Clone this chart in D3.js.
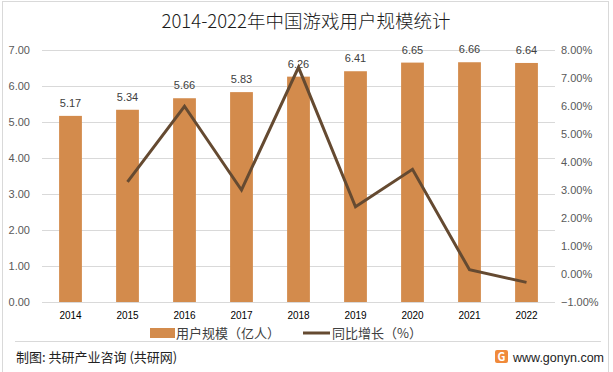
<!DOCTYPE html>
<html>
<head>
<meta charset="utf-8">
<script src="https://cdn.jsdelivr.net/npm/d3@7"></script>
<style>
  body { margin: 0; background: #fff; }
  svg { display: block; font-family: "Noto Sans CJK SC", "Noto Sans", sans-serif; }
</style>
</head>
<body>
<svg id="chart"></svg>
<script>
// data
let years = ['2014', '2015', '2016', '2017', '2018', '2019', '2020', '2021', '2022'];
let users = [5.17, 5.34, 5.66, 5.83, 6.26, 6.41, 6.65, 6.66, 6.64];
let growth = [null, 3.29, 5.99, 3.00, 7.38, 2.40, 3.74, 0.15, -0.30];
let leftTicks = [0, 1, 2, 3, 4, 5, 6, 7];
let rightTicks = [-1, 0, 1, 2, 3, 4, 5, 6, 7, 8];

let widthSVG = 613;
let heightSVG = 372;
let margins = { top: 50, bottom: 70, left: 42, right: 58 };

let width = widthSVG - margins.left - margins.right;
let height = heightSVG - margins.top - margins.bottom;

let barCol = '#D38B4C';
let lineCol = '#654A31';

let SVG = d3.select('svg#chart')
            .attr('width', widthSVG)
            .attr('height', heightSVG);

// outer frame
SVG.append('rect')
   .attr('x', 2.5).attr('y', 1.5)
   .attr('width', 606).attr('height', 372)
   .style('fill', 'none')
   .style('stroke', '#d9d9d9');

// title
SVG.append('text')
   .text('2014-2022年中国游戏用户规模统计')
   .attr('x', 306).attr('y', 28)
   .style('text-anchor', 'middle')
   .style('font-size', '18.5px')
   .style('font-weight', 300)
   .style('fill', '#1a1a1a');

let SVGG = SVG.append('g')
              .attr('transform', `translate(${margins.left}, ${margins.top})`);

// scales
let x = d3.scaleBand().domain(years).range([0, width]).paddingInner(0.6).paddingOuter(0.3);
let yL = d3.scaleLinear().domain([0, 7]).range([height, 0]);
let yR = d3.scaleLinear().domain([-1, 8]).range([height, 0]);

// gridlines
SVGG.selectAll('line.grid')
    .data(leftTicks)
    .enter()
    .append('line')
    .classed('grid', true)
    .attr('x1', 0).attr('x2', width)
    .attr('y1', d => Math.round(yL(d)) + 0.5)
    .attr('y2', d => Math.round(yL(d)) + 0.5)
    .style('stroke', '#d9d9d9')
    .style('stroke-width', '1px');

// left axis labels
let axisLeft = d3.axisLeft(yL).tickValues(leftTicks).tickSize(0).tickPadding(12).tickFormat(d3.format('.2f'));
SVGG.append('g')
    .call(axisLeft)
    .call(g => g.select('.domain').remove())
    .selectAll('text')
    .style('font-size', '11px')
    .style('fill', '#595959')
    .style('font-family', '"Liberation Sans", "DejaVu Sans", sans-serif');

// right axis labels
let axisRight = d3.axisRight(yR).tickValues(rightTicks).tickSize(0).tickPadding(6)
                  .tickFormat(d => d3.format('.2f')(d) + '%');
SVGG.append('g')
    .attr('transform', `translate(${width}, 0)`)
    .call(axisRight)
    .call(g => g.select('.domain').remove())
    .selectAll('text')
    .style('font-size', '11px')
    .style('fill', '#595959')
    .style('font-family', '"Liberation Sans", "DejaVu Sans", sans-serif');

// bars
SVGG.selectAll('rect.bar')
    .data(users)
    .enter()
    .append('rect')
    .classed('bar', true)
    .attr('x', (d, i) => x(years[i]))
    .attr('width', x.bandwidth())
    .attr('y', d => yL(d))
    .attr('height', d => height - yL(d))
    .style('fill', barCol);

// bar labels
SVGG.selectAll('text.barLab')
    .data(users)
    .enter()
    .append('text')
    .classed('barLab', true)
    .text(d => d3.format('.2f')(d))
    .attr('x', (d, i) => x(years[i]) + x.bandwidth() / 2)
    .attr('y', d => yL(d) - 9)
    .style('text-anchor', 'middle')
    .style('font-size', '11px')
    .style('fill', '#404040')
    .style('font-family', '"Liberation Sans", "DejaVu Sans", sans-serif');

// x axis labels
let axisBottom = d3.axisBottom(x).tickSize(0).tickPadding(10);
SVGG.append('g')
    .attr('transform', `translate(0, ${height})`)
    .call(axisBottom)
    .call(g => g.select('.domain').remove())
    .selectAll('text')
    .style('font-size', '10px')
    .style('fill', '#000')
    .style('font-family', '"Liberation Sans", "DejaVu Sans", sans-serif');

// growth line
let line = d3.line()
             .defined(d => d !== null)
             .x((d, i) => x(years[i]) + x.bandwidth() / 2)
             .y(d => yR(d));

SVGG.append('path')
    .datum(growth)
    .attr('d', line)
    .style('fill', 'none')
    .style('stroke', lineCol)
    .style('stroke-width', 3)
    .style('stroke-linejoin', 'miter');

// legend
let legend = SVG.append('g').attr('transform', 'translate(150, 333)');
legend.append('rect')
      .attr('x', 0).attr('y', -5)
      .attr('width', 25).attr('height', 10)
      .style('fill', barCol);
legend.append('text')
      .text('用户规模（亿人）')
      .attr('x', 26).attr('y', 5)
      .style('font-size', '13px')
      .style('fill', '#404040');
legend.append('line')
      .attr('x1', 153).attr('x2', 180)
      .attr('y1', 0).attr('y2', 0)
      .style('stroke', lineCol)
      .style('stroke-width', 3);
legend.append('text')
      .text('同比增长（%）')
      .attr('x', 182).attr('y', 5)
      .style('font-size', '13px')
      .style('fill', '#404040');

// footer
SVG.append('line')
   .attr('x1', 15).attr('x2', 601)
   .attr('y1', 341.5).attr('y2', 341.5)
   .style('stroke', '#d9d9d9');

SVG.append('text')
   .text('制图: 共研产业咨询 (共研网)')
   .attr('x', 16).attr('y', 362)
   .style('font-size', '13px')
   .style('fill', '#222');

// small logo
let logo = SVG.append('g').attr('transform', 'translate(495, 350)');
logo.append('rect').attr('width', 13).attr('height', 13).attr('rx', 2).style('fill', '#F08A3A');
logo.append('text').text('G').attr('x', 6.5).attr('y', 11)
    .style('text-anchor', 'middle').style('font-size', '11px').style('font-weight', 'bold').style('fill', '#fff');

SVG.append('text')
   .text('www.gonyn.com')
   .attr('x', 604).attr('y', 362)
   .style('text-anchor', 'end')
   .style('font-size', '12.5px')
   .style('fill', '#222')
   .style('font-family', '"Liberation Sans", "DejaVu Sans", sans-serif');
</script>
</body>
</html>
